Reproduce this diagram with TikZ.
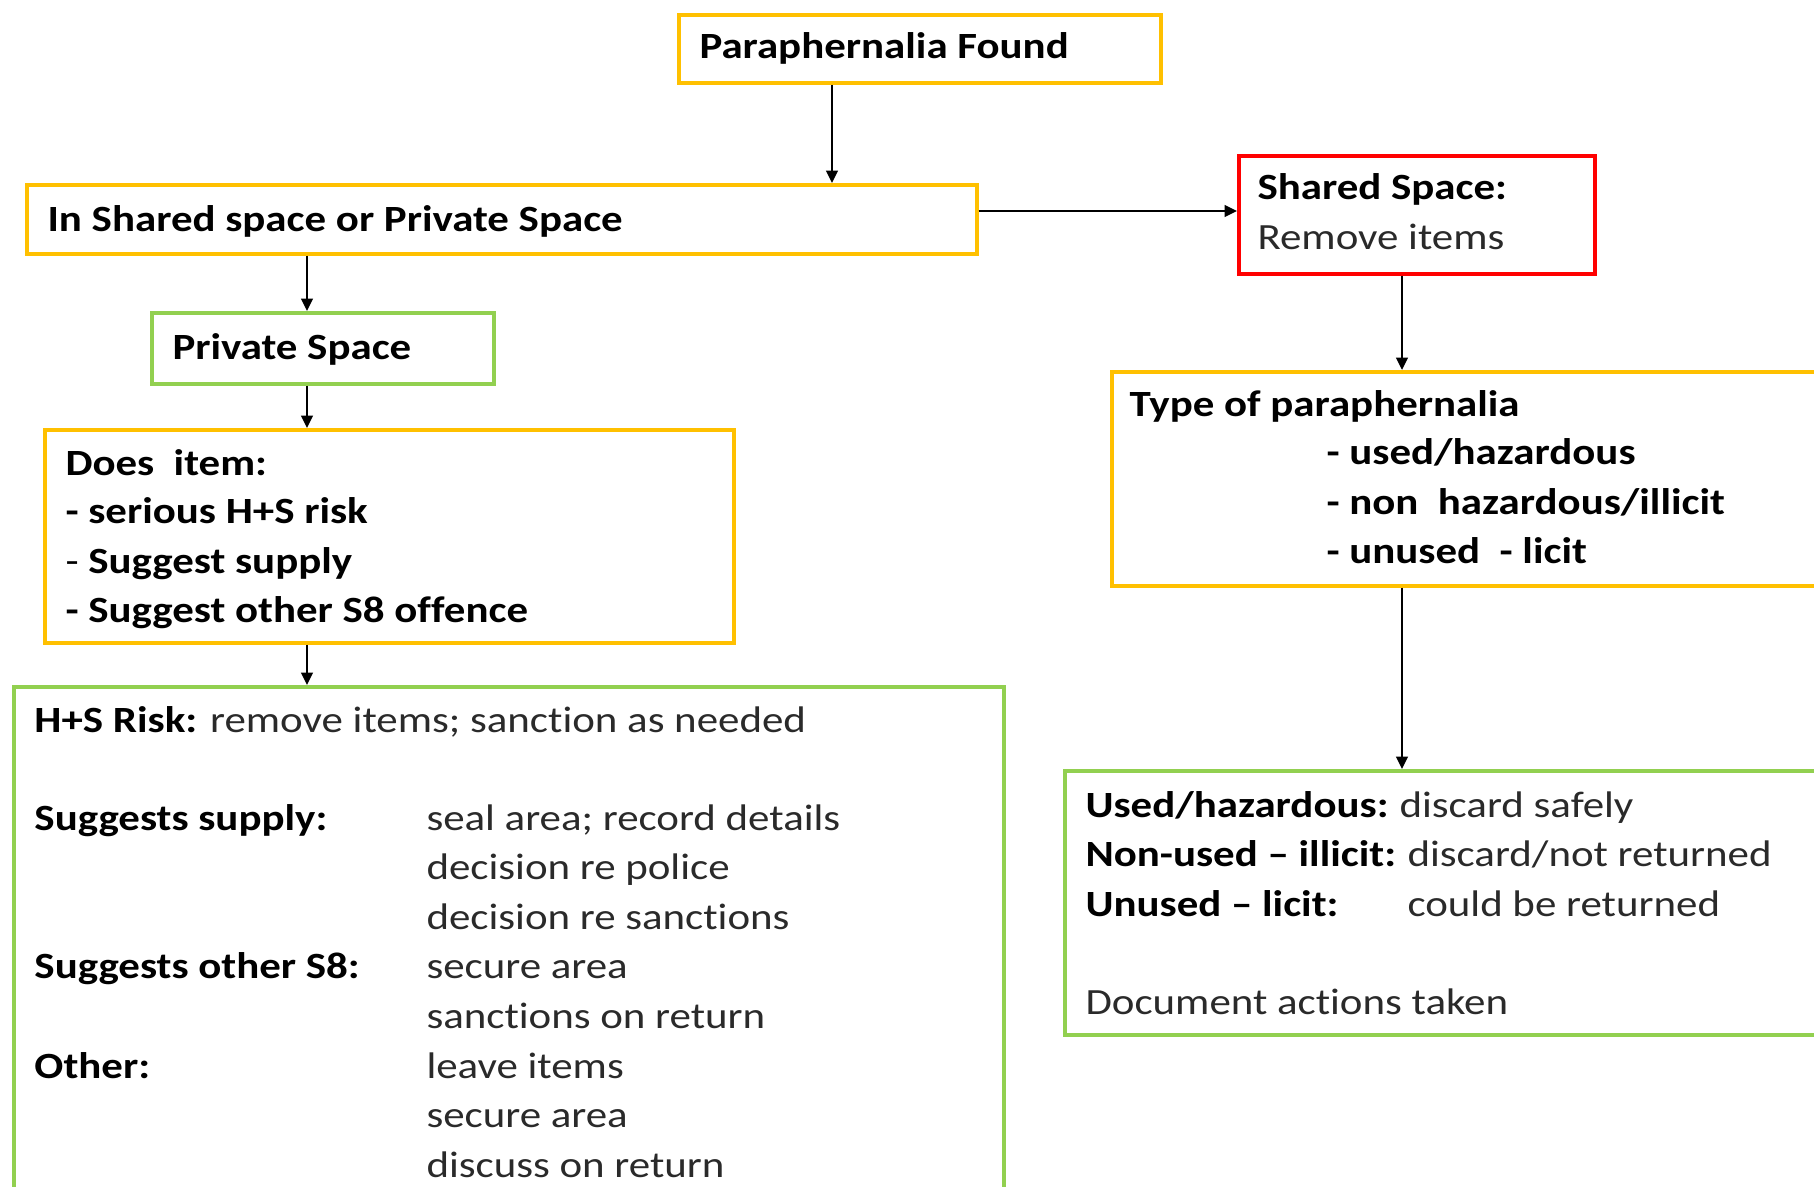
\documentclass[tikz,border=0pt]{standalone}
\usepackage{fontspec}
\setmainfont{Carlito}[FakeStretch=1.16,Ligatures={NoCommon}]
\usetikzlibrary{arrows.meta}
\definecolor{ybox}{HTML}{FFC000}
\definecolor{gbox}{HTML}{92D050}
\definecolor{rbox}{HTML}{FF0000}
\definecolor{regtext}{HTML}{2A2A2A}
\tikzset{
  box/.style={draw, line width=1.4pt, fill=white, anchor=north west, inner sep=0pt},
  ybx/.style={box, draw=ybox},
  gbx/.style={box, draw=gbox},
  rbx/.style={box, draw=rbox},
  bt/.style={anchor=base west, inner sep=0pt, font=\fontsize{14.8pt}{19.84pt}\selectfont\bfseries, text=black},
  rt/.style={anchor=base west, inner sep=0pt, font=\fontsize{14.8pt}{19.84pt}\selectfont, text=regtext},
  arr/.style={line width=1.1pt, -{Triangle[length=5pt,width=4.6pt]}}
}
\begin{document}
\begin{tikzpicture}[x=0.4pt,y=-0.4pt]
\useasboundingbox (0,0) rectangle (1814,1187);
\clip (0,0) rectangle (1814,1187);
\fill[white] (0,0) rectangle (1814,1187);

% boxes
\node[ybx, minimum width={482*0.4pt}, minimum height={68*0.4pt}] (A) at (677,13) {};
\node[ybx, minimum width={950*0.4pt}, minimum height={69*0.4pt}] (B) at (25,183) {};
\node[rbx, minimum width={356*0.4pt}, minimum height={118*0.4pt}] (C) at (1237,154) {};
\node[ybx, minimum width={730*0.4pt}, minimum height={214*0.4pt}] (D) at (1110,370) {};
\node[gbx, minimum width={777*0.4pt}, minimum height={264*0.4pt}] (E) at (1063,769) {};
\node[gbx, minimum width={342*0.4pt}, minimum height={71*0.4pt}] (F) at (150,311) {};
\node[ybx, minimum width={689*0.4pt}, minimum height={213*0.4pt}] (G) at (43,428) {};
\node[gbx, minimum width={990*0.4pt}, minimum height={525*0.4pt}] (H) at (12,685) {};

% connector columns
\coordinate (xa) at (832,0);
\coordinate (xl) at (307,0);
\coordinate (xr) at (1402,0);
\coordinate (yb) at (0,211);

% connectors
\draw[arr] (A.south -| xa) -- (B.north -| xa);
\draw[arr] (B.east |- yb) -- (C.west |- yb);
\draw[arr] (B.south -| xl) -- (F.north -| xl);
\draw[arr] (F.south -| xl) -- (G.north -| xl);
\draw[arr] (G.south -| xl) -- (H.north -| xl);
\draw[arr] (C.south -| xr) -- (D.north -| xr);
\draw[arr] (D.south -| xr) -- (E.north -| xr);

% texts
\node[bt] (tA) at (699,58) {Paraphernalia Found};
\node[bt] (tB) at (47,231) {In Shared space or Private Space};
\node[bt] (tC1) at (1257,199) {Shared Space:};
\node[rt] (tC2) at (1257,249) {Remove items};
\node[bt] (tF) at (172,359) {Private Space};

\node[bt] (tG1) at (65,475) {Does\ \ item:};
\node[bt] (tG2) at (65,523) {- serious H+S risk};
\node[bt] (tG3) at (65,573) {{\mdseries -} Suggest supply};
\node[bt] (tG4) at (65,622) {- Suggest other S8 offence};

\node[bt] (tD1) at (1129,416) {Type of paraphernalia};
\node[bt] (tD2) at (1326,464) {- used/hazardous};
\node[bt] (tD3) at (1326,514) {- non\ \ hazardous/illicit};
\node[bt] (tD4) at (1326,563) {- unused\ \ - licit};

\node[bt] (tE1) at (1085,817) {Used/hazardous:};
\node[rt] (tE1b) at (1399,817) {discard safely};
\node[bt] (tE2) at (1085,866) {Non-used – illicit:};
\node[rt] (tE2b) at (1407,866) {discard/not returned};
\node[bt] (tE3) at (1085,916) {Unused – licit:};
\node[rt] (tE3b) at (1407,916) {could be returned};
\node[rt] (tE4) at (1085,1014) {Document actions taken};

\node[rt] (tH1) at (34,732) {{\bfseries\color{black}H+S Risk:} remove items; sanction as needed};
\node[bt] (tH2) at (34,830) {Suggests supply:};
\node[rt] (tH2a) at (426,830) {seal area; record details};
\node[rt] (tH2b) at (426,879.6) {decision re police};
\node[rt] (tH2c) at (426,929.2) {decision re sanctions};
\node[bt] (tH3) at (34,978.8) {Suggests other S8:};
\node[rt] (tH3a) at (426,978.8) {secure area};
\node[rt] (tH3b) at (426,1028.4) {sanctions on return};
\node[bt] (tH4) at (34,1078) {Other:};
\node[rt] (tH4a) at (426,1078) {leave items};
\node[rt] (tH4b) at (426,1127.6) {secure area};
\node[rt] (tH4c) at (426,1177.2) {discuss on return};
\end{tikzpicture}
\end{document}
